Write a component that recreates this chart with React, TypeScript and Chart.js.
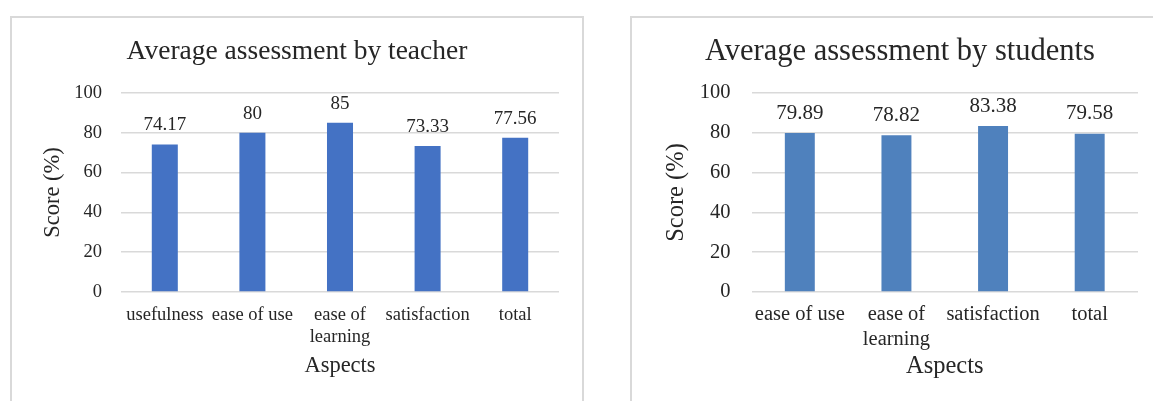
import React, { useEffect, useRef } from "react";
import { Chart, registerables } from "chart.js";

Chart.register(...registerables);

const teacherTitle = "Average assessment by teacher";
const teacherCategories: (string | string[])[] = [
  "usefulness",
  "ease of use",
  ["ease of", "learning"],
  "satisfaction",
  "total",
];
const teacherScores = [74.17, 80, 85, 73.33, 77.56];

const studentTitle = "Average assessment by students";
const studentCategories: (string | string[])[] = [
  "ease of use",
  ["ease of", "learning"],
  "satisfaction",
  "total",
];
const studentScores = [79.89, 78.82, 83.38, 79.58];

const yTicks = [0, 20, 40, 60, 80, 100];
const yAxisTitle = "Score (%)";
const xAxisTitle = "Aspects";

const FONT = "'Liberation Serif', 'Times New Roman', serif";
const TEXT = "#262626";
const GRID = "#d9d9d9";

type Cfg = {
  title: string;
  categories: (string | string[])[];
  values: number[];
  color: string;
  canvasW: number;
  canvasH: number;
  yWidth: number;
  xHeight: number;
  padSide: number;
  titleSize: number;
  titlePadTop: number;
  titlePadBottom: number;
  tickSize: number;
  axisTitleSize: number;
  yTitlePad: number;
  xTitlePadBottom: number;
  yTickPad: number;
  xTickPad: number;
  labelSize: number;
  labelOffset: number;
  barPct: number;
};

function BarBox({ cfg, left, top, width, height }: { cfg: Cfg; left: number; top: number; width: number; height: number }) {
  const ref = useRef<HTMLCanvasElement | null>(null);
  useEffect(() => {
    if (!ref.current) return;
    const labelPlugin = {
      id: "valueLabels",
      afterDatasetsDraw(chart: any) {
        const ctx = chart.ctx;
        const meta = chart.getDatasetMeta(0);
        ctx.save();
        ctx.font = `${cfg.labelSize}px ${FONT}`;
        ctx.fillStyle = TEXT;
        ctx.textAlign = "center";
        ctx.textBaseline = "alphabetic";
        meta.data.forEach((el: any, i: number) => {
          ctx.fillText(String(cfg.values[i]), el.x, el.y - cfg.labelOffset);
        });
        ctx.restore();
      },
    };
    const chart = new Chart(ref.current, {
      type: "bar",
      data: {
        labels: cfg.categories,
        datasets: [
          {
            data: cfg.values,
            backgroundColor: cfg.color,
            borderWidth: 0,
            categoryPercentage: 1,
            barPercentage: cfg.barPct,
          },
        ],
      },
      options: {
        animation: false,
        responsive: false,
        maintainAspectRatio: false,
        layout: { padding: { left: cfg.padSide, right: cfg.padSide, top: 0, bottom: 0 } },
        plugins: {
          legend: { display: false },
          tooltip: { enabled: false },
          title: {
            display: true,
            text: cfg.title,
            color: TEXT,
            font: { family: FONT, size: cfg.titleSize, weight: "normal" },
            padding: { top: cfg.titlePadTop, bottom: cfg.titlePadBottom },
          },
        },
        scales: {
          x: {
            grid: { display: false, drawTicks: false },
            border: { display: false },
            ticks: {
              color: TEXT,
              font: { family: FONT, size: cfg.tickSize },
              padding: cfg.xTickPad,
              maxRotation: 0,
              autoSkip: false,
            },
            title: {
              display: true,
              text: xAxisTitle,
              color: TEXT,
              font: { family: FONT, size: cfg.axisTitleSize },
              padding: { top: 0, bottom: cfg.xTitlePadBottom },
            },
            afterFit: (s: any) => {
              s.height = cfg.xHeight;
            },
          },
          y: {
            min: 0,
            max: 100,
            afterBuildTicks: (s: any) => {
              s.ticks = yTicks.map((v) => ({ value: v }));
            },
            grid: { color: GRID, lineWidth: 1.5, drawTicks: false },
            border: { display: false },
            ticks: {
              color: TEXT,
              font: { family: FONT, size: cfg.tickSize },
              padding: cfg.yTickPad,
            },
            title: {
              display: true,
              text: yAxisTitle,
              color: TEXT,
              font: { family: FONT, size: cfg.axisTitleSize },
              padding: { top: cfg.yTitlePad, bottom: 0 },
            },
            afterFit: (s: any) => {
              s.width = cfg.yWidth;
            },
          },
        },
      },
      plugins: [labelPlugin],
    });
    return () => chart.destroy();
  }, [cfg]);
  return (
    <div
      style={{
        position: "absolute",
        left,
        top,
        width,
        height,
        border: `2px solid ${GRID}`,
        boxSizing: "border-box",
        background: "#fff",
      }}
    >
      <canvas ref={ref} width={cfg.canvasW} height={cfg.canvasH} style={{ display: "block", width: cfg.canvasW, height: cfg.canvasH }} />
    </div>
  );
}

const leftCfg: Cfg = {
  title: teacherTitle,
  categories: teacherCategories,
  values: teacherScores,
  color: "#4472C4",
  canvasW: 570,
  canvasH: 383,
  yWidth: 86,
  xHeight: 109,
  padSide: 23,
  titleSize: 27.5,
  titlePadTop: 17,
  titlePadBottom: 25,
  tickSize: 18.5,
  axisTitleSize: 22.5,
  yTitlePad: 5,
  xTitlePadBottom: 21.5,
  yTickPad: 19,
  xTickPad: 12,
  labelSize: 19,
  labelOffset: 14,
  barPct: 0.297,
};

const rightCfg: Cfg = {
  title: studentTitle,
  categories: studentCategories,
  values: studentScores,
  color: "#4F81BD",
  canvasW: 536,
  canvasH: 383,
  yWidth: 89.5,
  xHeight: 109,
  padSide: 30,
  titleSize: 30.5,
  titlePadTop: 16,
  titlePadBottom: 22.4,
  tickSize: 20.5,
  axisTitleSize: 24.5,
  yTitlePad: 0,
  xTitlePadBottom: 19.5,
  yTickPad: 21,
  xTickPad: 10.7,
  labelSize: 21,
  labelOffset: 14.3,
  barPct: 0.31,
};

export default function App() {
  return (
    <div
      style={{
        position: "absolute",
        left: 0,
        top: 0,
        width: 1153,
        height: 401,
        overflow: "hidden",
        background: "#fff",
      }}
    >
      <BarBox cfg={leftCfg} left={10} top={16} width={574} height={420} />
      <BarBox cfg={rightCfg} left={630} top={16} width={540} height={420} />
    </div>
  );
}
